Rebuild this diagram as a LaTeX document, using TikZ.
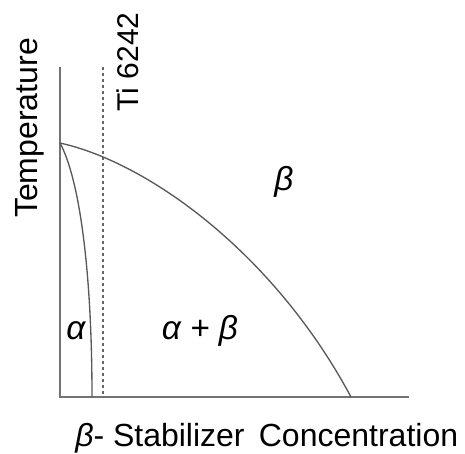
\documentclass[tikz,border=0pt]{standalone}
\usepackage{fontspec}
\setmainfont{Liberation Sans}
\begin{document}
\begin{tikzpicture}[x=0.75pt,y=-0.75pt,
  axis/.style={draw=black!55,line width=1.6pt},
  phase/.style={draw=black!65,line width=1pt},
  tiline/.style={draw=black!60,line width=1pt,dash pattern=on 2.5pt off 2pt},
  lbl/.style={font=\fontsize{24}{26}\selectfont,inner sep=0pt},
  greek/.style={font=\fontsize{25}{27}\selectfont\itshape,inner sep=0pt}]
\useasboundingbox (0,0) rectangle (465,454);
\coordinate (origin) at (60,397);
\coordinate (ytop) at (60,67);
\coordinate (xend) at (409,397);
\coordinate (peak) at (60,143);
\coordinate (tibot) at (103,397);
\coordinate (titop) at (103,67);
\coordinate (alphaend) at (92,397);
\coordinate (betaend) at (351,397);
\draw[axis] (ytop) -- (origin) -- (xend);
\draw[tiline] (titop) -- (tibot);
\draw[phase] (peak) .. controls (150,163) and (275,255) .. (betaend);
\draw[phase] (peak) .. controls (79,178) and (92,268) .. (alphaend);
\node[lbl,rotate=90] (temp) at (30,128) {Temperature};
\node[lbl,rotate=90,font=\fontsize{22.5}{24}\selectfont] (ti) at (128,62) {Ti 6242};
\node[lbl,anchor=base west] (xl) at (75,446) {{\itshape β}- Stabilizer\, Concentration};
\node[greek] (a) at (76,331) {α};
\node[greek] (ab) at (200,331) {α + β};
\node[greek] (b) at (284,182) {β};
\end{tikzpicture}
\end{document}
